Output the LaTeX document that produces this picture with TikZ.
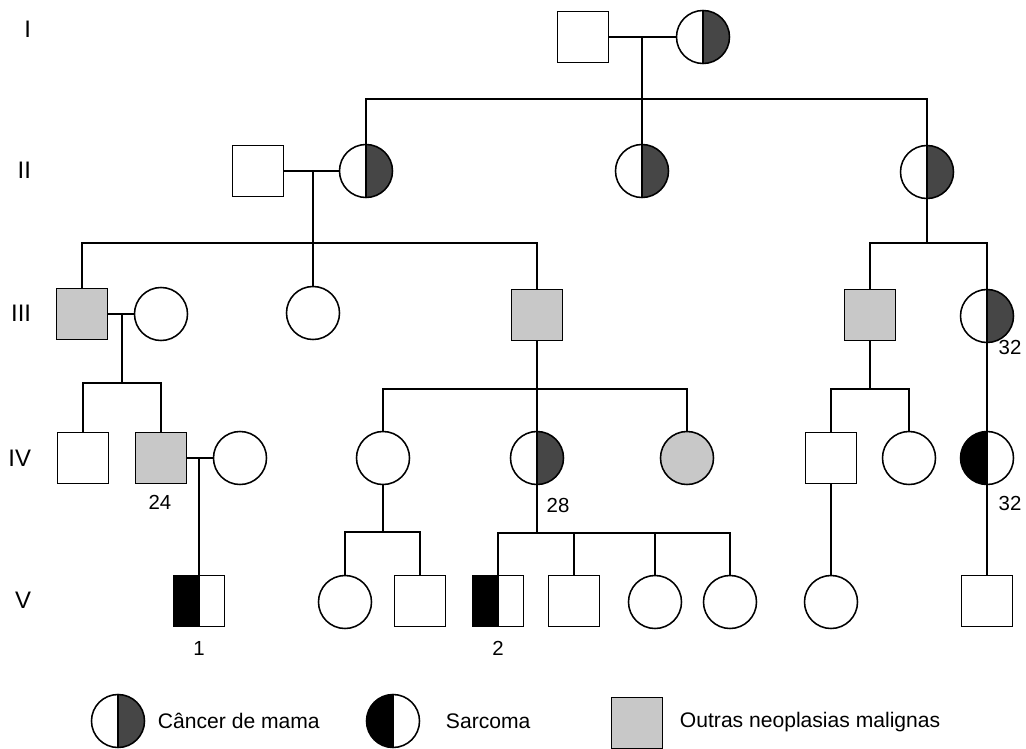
\documentclass[tikz,border=0pt]{standalone}
\usepackage{fontspec}
\setmainfont{Liberation Sans}
\usetikzlibrary{positioning, calc}
\definecolor{mamagray}{RGB}{70, 70, 70}
\definecolor{outragray}{RGB}{200, 200, 200}

\tikzset{
  male/.style={rectangle, draw, line width=1.1pt, minimum size=1.275cm, inner sep=0pt, fill=white},
  female/.style={circle, draw, line width=1.1pt, minimum size=1.325cm, inner sep=0pt, fill=white},
  mama/.style={path picture={
      \fill[mamagray] (path picture bounding box.north) rectangle (path picture bounding box.south east);
      \draw[line width=1.1pt] (path picture bounding box.north) -- (path picture bounding box.south);}},
  sarc/.style={path picture={
      \fill[black] (path picture bounding box.north) rectangle (path picture bounding box.south west);
      \draw[line width=1.1pt] (path picture bounding box.north) -- (path picture bounding box.south);}},
  outra/.style={fill=outragray},
  gen/.style={anchor=east, font=\fontsize{17}{20}\selectfont},
  age/.style={font=\fontsize{14.5}{17}\selectfont},
  legtext/.style={anchor=west, font=\fontsize{15}{18}\selectfont},
  link/.style={line width=1.3pt}
}

\begin{document}
\begin{tikzpicture}[x=0.025cm, y=-0.025cm]
  \useasboundingbox (0,0) rectangle (1026,749);

  % geracoes
  \node[gen] (gI)   at (36,29)  {I};
  \node[gen] (gII)  at (36,170) {II};
  \node[gen] (gIII) at (36,313) {III};
  \node[gen] (gIV)  at (36,458) {IV};
  \node[gen] (gV)   at (36,600) {V};

  % geracao I
  \node[male] (I1) at (583,37) {};
  \node[female, mama] (I2) at (703,37) {};

  % geracao II
  \node[male] (II0) at (258,171) {};
  \node[female, mama] (II1) at (366,171) {};
  \node[female, mama] (II2) at (642,171) {};
  \node[female, mama] (II3) at (927,172) {};

  % geracao III
  \node[male, outra] (III1) at (82,314) {};
  \node[female] (III1w) at (161,314) {};
  \node[female] (III2) at (313,313) {};
  \node[male, outra] (III3) at (537,315) {};
  \node[male, outra] (III4) at (870,315) {};
  \node[female, mama] (III5) at (987,316) {};
  \node[age] (a32a) at (1010,347) {32};

  % geracao IV
  \node[male] (IV1) at (83,458) {};
  \node[male, outra] (IV2) at (161,458) {};
  \node[female] (IV2w) at (240,458) {};
  \node[age] (a24) at (160,502) {24};
  \node[female] (IV3) at (383,458) {};
  \node[female, mama] (IV4) at (537,458) {};
  \node[age] (a28) at (558,505) {28};
  \node[female, outra] (IV5) at (687,458) {};
  \node[male] (IV6) at (831,458) {};
  \node[female] (IV7) at (909,458) {};
  \node[female, sarc] (IV8) at (987,458) {};
  \node[age] (a32b) at (1010,503) {32};

  % geracao V
  \node[male, sarc] (V1) at (199,601) {};
  \node[age] (a1) at (199,648) {1};
  \node[female] (V2) at (345,602) {};
  \node[male] (V3) at (420,601) {};
  \node[male, sarc] (V4) at (498,601) {};
  \node[age] (a2) at (498,648) {2};
  \node[male] (V5) at (574,601) {};
  \node[female] (V6) at (655,602) {};
  \node[female] (V7) at (730,602) {};
  \node[female] (V8) at (831,602) {};
  \node[male] (V9) at (987,601) {};

  % unioes e descendencia
  \coordinate (mI) at (642,37);
  \coordinate (sII) at (642,99);
  \draw[link] (I1.east) -- (I2.west);
  \draw[link] (mI) -- (sII);
  \draw[link] (II1.north) |- (sII) -| (II3.north);
  \draw[link] (sII) -- (II2.north);

  \coordinate (mII) at (313,171);
  \coordinate (sIII) at (313,243);
  \draw[link] (II0.east) -- (II1.west);
  \draw[link] (mII) -- (sIII);
  \draw[link] (III1.north) |- (sIII) -| (III3.north);
  \draw[link] (sIII) -- (III2.north);

  \coordinate (sIIIr) at (927,243);
  \draw[link] (II3.south) -- (sIIIr);
  \draw[link] (III4.north) |- (sIIIr) -| (III5.north);

  \coordinate (mIII) at (122,314);
  \coordinate (sIV) at (122,383);
  \draw[link] (III1.east) -- (III1w.west);
  \draw[link] (mIII) -- (sIV);
  \draw[link] (IV1.north) |- (sIV) -| (IV2.north);

  \coordinate (sIVm) at (537,389);
  \draw[link] (III3.south) -- (sIVm);
  \draw[link] (IV3.north) |- (sIVm) -| (IV5.north);
  \draw[link] (sIVm) -- (IV4.north);

  \coordinate (sIVr) at (870,389);
  \draw[link] (III4.south) -- (sIVr);
  \draw[link] (IV6.north) |- (sIVr) -| (IV7.north);
  \draw[link] (III5.south) -- (IV8.north);

  \coordinate (mIV) at (199,458);
  \draw[link] (IV2.east) -- (IV2w.west);
  \draw[link] (mIV) -- (V1.north);

  \coordinate (sV1) at (383,532);
  \draw[link] (IV3.south) -- (sV1);
  \draw[link] (V2.north) |- (sV1) -| (V3.north);

  \coordinate (sV2) at (537,533);
  \draw[link] (IV4.south) -- (sV2);
  \draw[link] (V4.north) |- (sV2) -| (V7.north);
  \draw[link] (V5.north) -- (V5.north |- sV2);
  \draw[link] (V6.north) -- (V6.north |- sV2);

  \draw[link] (IV6.south) -- (V8.north);
  \draw[link] (IV8.south) -- (V9.north);

  % legenda
  \node[female, mama] (L1) at (118,721) {};
  \node[legtext] (L1t) at (153,721) {Câncer de mama};
  \node[female, sarc] (L2) at (393,721) {};
  \node[legtext] (L2t) at (441,721) {Sarcoma};
  \node[male, outra] (L3) at (637,723) {};
  \node[legtext] (L3t) at (675,722) {Outras neoplasias malignas};
\end{tikzpicture}
\end{document}
